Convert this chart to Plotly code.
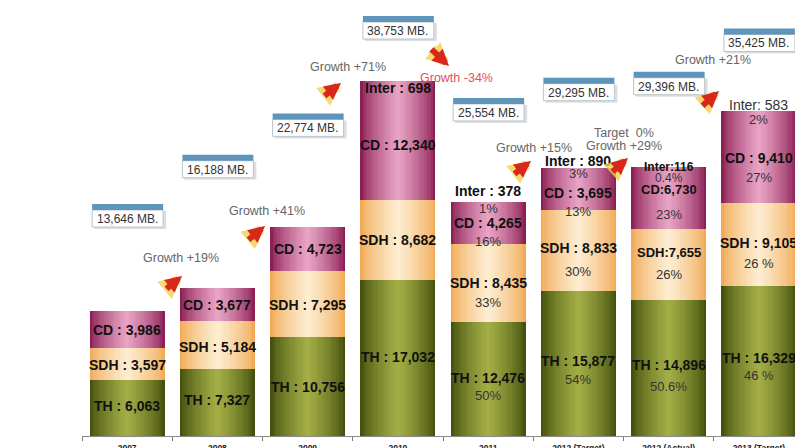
import plotly.graph_objects as go

# ---------------- data ----------------
categories = ["2007", "2008", "2009", "2010", "2011",
              "2012 (Target)", "2012 (Actual)", "2013 (Target)"]
th = [6063, 7327, 10756, 17032, 12476, 15877, 14896, 16329]
sdh = [3597, 5184, 7295, 8682, 8435, 8833, 7655, 9105]
cd = [3986, 3677, 4723, 12340, 4265, 3695, 6730, 9410]
inter = [0, 0, 0, 698, 378, 890, 116, 583]
totals = [13646, 16188, 22774, 38753, 25554, 29295, 29396, 35425]

th_pct = ["", "", "", "", "50%", "54%", "50.6%", "46 %"]
sdh_pct = ["", "", "", "", "33%", "30%", "26%", "26 %"]
cd_pct = ["", "", "", "", "16%", "13%", "23%", "27%"]
inter_pct = ["", "", "", "", "1%", "3%", "0.4%", "2%"]
inter_labels = ["", "", "", "Inter : 698", "Inter : 378", "Inter : 890",
                "Inter:116", "Inter: 583"]
label_sep = [" : ", " : ", " : ", " : ", " : ", " : ", ":", " : "]

growth_texts = ["Growth +19%", "Growth +41%", "Growth +71%", "Growth -34%",
                "Growth +15%", "Target  0%", "Growth +29%", "Growth +21%"]

# ---------------- layout constants ----------------
W, H = 795, 448
ML, MB = 82, 12
PW, PH = W - ML, H - MB
Y_MAX = PH / 0.00916
BW = 0.83
FONT = "Liberation Sans, Arial, sans-serif"

# pixel offsets (positive = up)
th_lab_dy = [2, 2, 0, 1, 1, 2, 3, 3]
th_pct_dy = [0, 0, 0, 0, -17, -16, -19, -14]
sdh_lab_dy = [-1, -2, -1, 0, 0, 2, 12, 2]
sdh_pct_dy = [0, 0, 0, 0, -19, -21, -10, -19]
cd_lab_dy = [-1, 0, 0, -1, 2, 0, 9, 2]
cd_pct_dy = [0, 0, 0, 0, -17, -19, -16, -18]
inter_lab_dy = [0, 0, 0, -7, 11, 7, 0, 6]
inter_pct_dy = [0, 0, 0, 0, -7, -6, -11, -8]
inter_bold = [True, True, True, True, True, True, True, False]
label_size = [14, 14, 14, 14, 14, 14, 13, 14]
box_gap = [92, 118, 99, 50, 89, 75, 80, 68]

# growth annotation pixel positions (screen coords)
arrow_heads = [(182, 276), (265, 226), (341, 83), (449, 66),
               (531, 161), (628, 158), (719, 91)]
arrow_tails = [(-17, 14), (-18, 15), (-18, 14), (-19, -18),
               (-18, 14), (-17, 15), (-18, 16)]
growth_xy = [(181, 258), (267, 211), (348, 67), (456, 78),
             (534, 148), (624, 133), (624, 146), (713, 60)]
growth_colors = ["#666666", "#666666", "#666666", "#e4505c",
                 "#666666", "#666666", "#666666", "#666666"]


def px(xp):
    return (xp - ML) / PW


def py(yp):
    return (PH - yp) / PH


def mix(c1, c2, t):
    a = [int(c1[i:i + 2], 16) for i in (1, 3, 5)]
    b = [int(c2[i:i + 2], 16) for i in (1, 3, 5)]
    return "#%02x%02x%02x" % tuple(round(a[k] + (b[k] - a[k]) * t) for k in range(3))


fig = go.Figure()

base_sdh = [t for t in th]
base_cd = [t + s for t, s in zip(th, sdh)]
cd_tot = [c + i for c, i in zip(cd, inter)]

segments = [
    (th, [0] * len(th), "#45510e", "#a3ad45"),
    (sdh, base_sdh, "#f1ab58", "#fdeccf"),
    (cd_tot, base_cd, "#8c2054", "#e8a2c3"),
]
N = 16
for vals, base, edge, center in segments:
    for k in range(N):
        w = BW * (1 - k / N)
        t = (k / (N - 1)) ** 0.75
        fig.add_trace(go.Bar(
            x=categories, y=vals, base=base, width=w,
            marker=dict(color=mix(edge, center, t), line=dict(width=0)),
            hoverinfo="skip", showlegend=False))

annotations = []
shapes = []


def lab(x, y, text, dy, size=14, bold=True, color="#111111"):
    annotations.append(dict(
        x=x, y=y, xref="x", yref="y", text=("<b>%s</b>" % text) if bold else text,
        showarrow=False, yshift=dy, xanchor="center", yanchor="middle",
        font=dict(family=FONT, size=size, color=color)))


for i, cat in enumerate(categories):
    c_th = th[i] / 2
    c_sdh = th[i] + sdh[i] / 2
    c_cd = th[i] + sdh[i] + cd[i] / 2
    s = label_size[i]
    lab(i, c_th, "TH : %s" % format(th[i], ","), th_lab_dy[i])
    lab(i, c_sdh, "SDH%s%s" % (label_sep[i], format(sdh[i], ",")), sdh_lab_dy[i], size=s)
    lab(i, c_cd, "CD%s%s" % (label_sep[i], format(cd[i], ",")), cd_lab_dy[i], size=s)
    if th_pct[i]:
        lab(i, c_th, th_pct[i], th_pct_dy[i], size=13, bold=False, color="#333333")
        lab(i, c_sdh, sdh_pct[i], sdh_pct_dy[i], size=13, bold=False, color="#333333")
        lab(i, c_cd, cd_pct[i], cd_pct_dy[i], size=13, bold=False, color="#333333")
    top_y = th[i] + sdh[i] + cd[i] + inter[i]
    if inter_labels[i]:
        lab(i, top_y, inter_labels[i], inter_lab_dy[i], size=s - (1 if s < 14 else 0),
            bold=inter_bold[i], color="#111111" if inter_bold[i] else "#333333")
    if inter_pct[i]:
        lab(i, top_y, inter_pct[i], inter_pct_dy[i], size=s - 1, bold=False,
            color="#333333")

    # total box
    g = box_gap[i]
    common = dict(xref="x", yref="y", xsizemode="pixel", ysizemode="pixel",
                  xanchor=i, yanchor=top_y, layer="above")
    shapes.append(dict(type="rect", x0=-33, x1=39, y0=g - 10, y1=g + 8,
                       fillcolor="rgba(0,0,0,0.13)", line=dict(width=0), **common))
    shapes.append(dict(type="rect", x0=-35, x1=36, y0=g - 8, y1=g + 9,
                       fillcolor="#ffffff", line=dict(color="#b8c4cc", width=1), **common))
    shapes.append(dict(type="rect", x0=-35, x1=36, y0=g + 9, y1=g + 15,
                       fillcolor="#5f95bb", line=dict(width=0), **common))
    annotations.append(dict(
        x=i, y=top_y, xref="x", yref="y", yshift=g, showarrow=False,
        text="%s MB." % format(totals[i], ","), xanchor="center", yanchor="middle",
        font=dict(family=FONT, size=12, color="#333333")))

# growth arrows
for (hx, hy), (ax, ay) in zip(arrow_heads, arrow_tails):
    for col, wdt, sz in (("rgba(246,208,80,0.8)", 10, 0.45), ("#d8281c", 6, 0.55)):
        annotations.append(dict(
            x=px(hx), y=py(hy), xref="paper", yref="paper", text="",
            showarrow=True, ax=ax, ay=ay, arrowhead=2, arrowsize=sz,
            arrowwidth=wdt, arrowcolor=col, standoff=0, startstandoff=0))

for (gx, gy), txt, col in zip(growth_xy, growth_texts, growth_colors):
    annotations.append(dict(
        x=px(gx), y=py(gy), xref="paper", yref="paper", text=txt, showarrow=False,
        xanchor="center", yanchor="middle",
        font=dict(family=FONT, size=12.5, color=col)))

fig.update_layout(
    width=W, height=H,
    margin=dict(l=ML, r=0, t=0, b=MB, pad=0),
    barmode="overlay",
    bargap=0,
    plot_bgcolor="white", paper_bgcolor="white",
    showlegend=False,
    annotations=annotations,
    shapes=shapes,
    xaxis=dict(type="category", range=[-0.5, 7.4], tickson="boundaries",
               ticks="outside", ticklen=4, tickcolor="#777777",
               showline=True, linecolor="#888888", linewidth=1,
               showgrid=False, zeroline=False, automargin=False,
               ticklabelstandoff=4,
               tickfont=dict(family=FONT, size=8.5, color="#222222", weight="bold")),
    yaxis=dict(visible=False, range=[0, Y_MAX], showgrid=False, zeroline=False,
               automargin=False),
)

fig.write_html(
    "out.html",
    config={"displayModeBar": False},
    post_script="document.body.style.margin='0';document.body.style.overflow='hidden';",
)
